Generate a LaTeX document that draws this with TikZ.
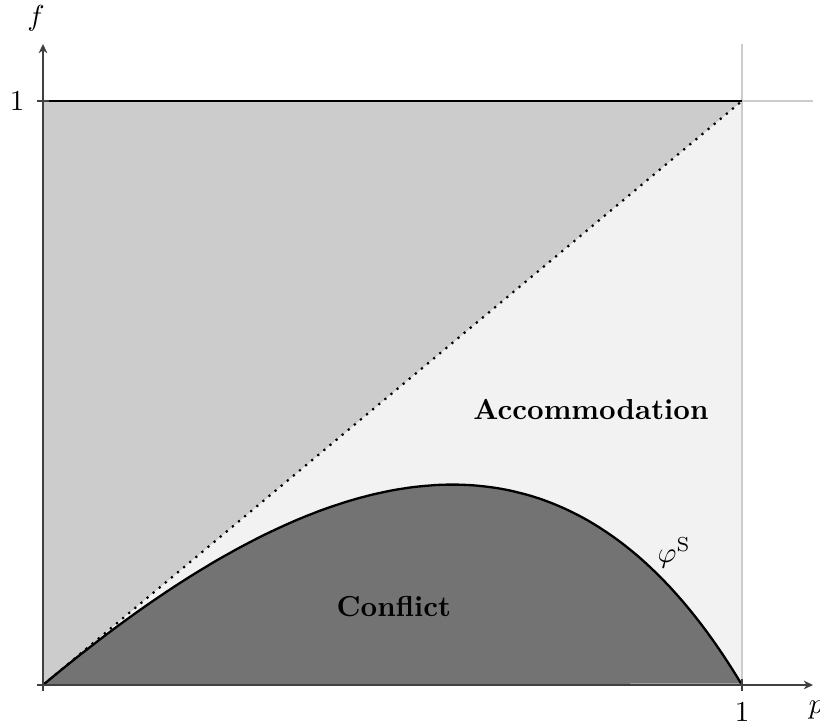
\documentclass[tikz,border=0pt]{standalone}
\usetikzlibrary{arrows.meta}
\begin{document}
\begin{tikzpicture}[x=241.9pt,y=202.1pt,
  gridline/.style={black!20, line width=0.4pt},
  axisline/.style={black!75, line width=0.4pt, -{Stealth[length=3.2pt,width=3pt,inset=1pt]}},
  ticklbl/.style={inner sep=0pt, font=\normalsize},
  phicurve/.style={line width=0.8pt, black},
  regionlbl/.style={inner sep=0pt, font=\bfseries}]
\useasboundingbox (-0.0615,-0.0685) rectangle (1.1116,1.1729);
% regions
\fill[black!5] (0,0) rectangle (1,1);
\fill[black!20] (0,0) -- (1,1) -- (0,1) -- cycle;
\fill[black!55] plot[domain=0:1, samples=120, smooth] (\x,{2*\x*(1-\x)/(2-\x)}) -- cycle;
% grid lines
\draw[gridline] (1,0) -- (1,1.0976);
\draw[gridline] (0,1) -- (1.1016,1);
% boundaries
\draw[phicurve] plot[domain=0:1, samples=120, smooth] (\x,{2*\x*(1-\x)/(2-\x)});
\draw[line width=0.75pt, dotted] (0,0) -- (1,1);
\draw[line width=0.5pt] (0,1) -- (1,1);
% axes
\draw[axisline] (0,0) -- (1.1016,0);
\draw[axisline] (0,0) -- (0,1.0976);
% ticks
\foreach \t in {0,1} {
  \draw[black!75, line width=0.4pt] (\t,0) ++(0,-2.1pt) -- ++(0,4.2pt);
  \draw[black!75, line width=0.4pt] (0,\t) ++(-2.1pt,0) -- ++(4.2pt,0);
}
% labels
\node[ticklbl] (xone) at (1,-0.046) {1};
\node[ticklbl] (yone) at (-0.037,1) {1};
\node[ticklbl] (xlab) at (1.106,-0.043) {$p$};
\node[ticklbl] (ylab) at (-0.01,1.142) {$f$};
\node[regionlbl] (acc) at (0.784,0.472) {Accommodation};
\node[regionlbl] (conf) at (0.502,0.135) {Conflict};
\node[inner sep=0pt] (phi) at (0.903,0.226) {$\varphi^{\mathrm{S}}$};
\end{tikzpicture}
\end{document}
